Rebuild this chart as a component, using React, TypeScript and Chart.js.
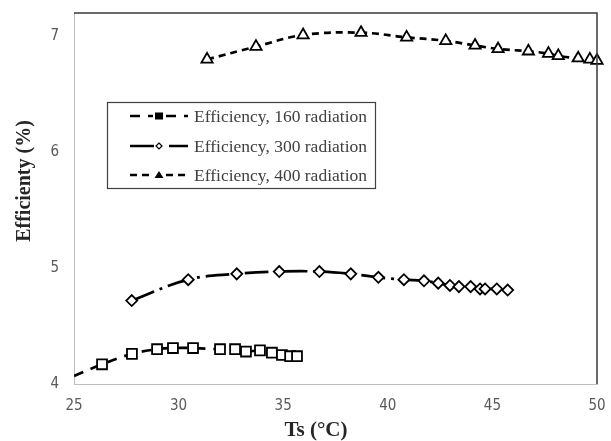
import React, { useEffect, useRef } from 'react';
import { Chart, registerables } from 'chart.js';

Chart.register(...registerables);

// Series data
const ts160 = [25.0, 26.34, 27.77, 28.97, 29.73, 30.69, 31.98, 32.7, 33.22, 33.89, 34.46, 34.94, 35.33, 35.66];
const eff160 = [4.07, 4.17, 4.26, 4.3, 4.31, 4.31, 4.3, 4.3, 4.28, 4.29, 4.27, 4.25, 4.24, 4.24];

const ts300 = [27.76, 30.46, 32.78, 34.81, 36.73, 38.23, 39.55, 40.77, 41.73, 42.41, 42.97, 43.4, 43.96, 44.41, 44.65, 45.21, 45.73];
const eff300 = [4.72, 4.9, 4.95, 4.97, 4.97, 4.95, 4.92, 4.9, 4.89, 4.87, 4.85, 4.84, 4.84, 4.82, 4.82, 4.82, 4.81];

const ts400 = [31.36, 33.7, 35.95, 38.72, 40.9, 42.77, 44.17, 45.27, 46.72, 47.68, 48.15, 49.1, 49.66, 50.0];
const eff400 = [6.8, 6.91, 7.01, 7.03, 6.99, 6.96, 6.92, 6.89, 6.87, 6.85, 6.83, 6.81, 6.8, 6.79];

const seriesLabels = ['Efficiency, 160 radiation', 'Efficiency, 300 radiation', 'Efficiency, 400 radiation'];
const xTicks = [25, 30, 35, 40, 45, 50];
const yTicks = [4, 5, 6, 7];
const xTitle = 'Ts (°C)';
const yTitle = 'Efficienty (%)';

const dash160 = [10, 8];
const dash300 = [24, 6, 3, 6];
const dash400 = [7, 5];

const toPoints = (xs: number[], ys: number[]) => xs.map((x, i) => ({ x, y: ys[i] }));

const overlayPlugin = {
  id: 'overlay',
  afterDraw(chart: any) {
    const { ctx, chartArea } = chart;
    const { left, right, top, bottom } = chartArea;
    ctx.save();
    // top / right frame lines
    ctx.strokeStyle = '#3a3a3a';
    ctx.lineWidth = 1.5;
    ctx.setLineDash([]);
    ctx.beginPath();
    ctx.moveTo(left, top);
    ctx.lineTo(right, top);
    ctx.lineTo(right, bottom);
    ctx.stroke();

    // axis titles
    ctx.fillStyle = '#262626';
    ctx.textAlign = 'center';
    ctx.textBaseline = 'middle';
    ctx.font = 'bold 21px "Liberation Serif", "Times New Roman", serif';
    ctx.fillText(xTitle, 316, 431);
    ctx.font = 'bold 20px "Liberation Serif", "Times New Roman", serif';
    ctx.save();
    ctx.translate(25, 181);
    ctx.rotate(-Math.PI / 2);
    ctx.fillText(yTitle, 0, 0);
    ctx.restore();

    // legend box
    ctx.strokeStyle = '#404040';
    ctx.lineWidth = 1.2;
    ctx.strokeRect(107.5, 102.5, 268, 86);

    const rows = [116, 146, 175];
    const dashes = [dash160, dash300, dash400];
    rows.forEach((y, i) => {
      ctx.strokeStyle = '#000';
      ctx.lineWidth = 2.5;
      ctx.setLineDash(dashes[i]);
      ctx.beginPath();
      ctx.moveTo(130, y);
      ctx.lineTo(188, y);
      ctx.stroke();
      ctx.setLineDash([]);
      // marker
      const mx = 159;
      ctx.lineWidth = 1.2;
      if (i === 0) {
        ctx.fillStyle = '#fff';
        ctx.fillRect(mx - 6, y - 5, 12, 10);
        ctx.fillStyle = '#000';
        ctx.fillRect(mx - 4, y - 3.5, 8, 7);
      } else if (i === 1) {
        ctx.fillStyle = '#fff';
        ctx.fillRect(mx - 5, y - 5, 10, 10);
        ctx.beginPath();
        ctx.moveTo(mx, y - 3);
        ctx.lineTo(mx + 3, y);
        ctx.lineTo(mx, y + 3);
        ctx.lineTo(mx - 3, y);
        ctx.closePath();
        ctx.fill();
        ctx.strokeStyle = '#000';
        ctx.stroke();
      } else {
        ctx.fillStyle = '#fff';
        ctx.fillRect(mx - 6, y - 5, 12, 10);
        ctx.fillStyle = '#000';
        ctx.beginPath();
        ctx.moveTo(mx, y - 4);
        ctx.lineTo(mx + 4.5, y + 3);
        ctx.lineTo(mx - 4.5, y + 3);
        ctx.closePath();
        ctx.fill();
      }
      ctx.fillStyle = '#404040';
      ctx.textAlign = 'left';
      ctx.textBaseline = 'middle';
      ctx.font = '17.5px "Liberation Serif", "Times New Roman", serif';
      ctx.fillText(seriesLabels[i], 194, y + 1);
    });
    ctx.restore();
  },
};

export default function App() {
  const ref = useRef<HTMLCanvasElement | null>(null);
  useEffect(() => {
    if (!ref.current) return;
    const tickFont = { family: "'Liberation Sans Narrow', 'DejaVu Sans Condensed', 'Liberation Sans', sans-serif", size: 15 };
    const common = {
      borderColor: '#000',
      borderWidth: 2.7,
      pointBackgroundColor: '#fff',
      pointBorderColor: '#000',
      pointBorderWidth: 1.8,
      tension: 0.4,
      fill: false,
    };
    const chart = new Chart(ref.current, {
      type: 'line',
      data: {
        datasets: [
          {
            ...common,
            label: seriesLabels[0],
            data: toPoints(ts160, eff160),
            borderDash: dash160,
            pointStyle: 'rect',
            pointRadius: ts160.map((_, i) => (i === 0 ? 0 : 7)),
          },
          {
            ...common,
            label: seriesLabels[1],
            data: toPoints(ts300, eff300),
            borderDash: dash300,
            pointStyle: 'rectRot',
            pointRadius: 5.5,
          },
          {
            ...common,
            label: seriesLabels[2],
            data: toPoints(ts400, eff400),
            borderDash: dash400,
            pointStyle: 'triangle',
            pointRadius: 6.5,
            clip: 10,
          },
        ] as any,
      },
      options: {
        animation: false,
        responsive: false,
        layout: { padding: { left: 0, top: 13, right: 14, bottom: 0 } },
        plugins: { legend: { display: false }, tooltip: { enabled: false } },
        scales: {
          x: {
            type: 'linear',
            min: 25,
            max: 50,
            afterBuildTicks: (s: any) => { s.ticks = xTicks.map((v) => ({ value: v })); },
            afterFit: (s: any) => { s.height = 57; s.paddingLeft = 0; s.paddingRight = 0; },
            grid: { display: false, drawTicks: false },
            border: { display: true, color: '#bfbfbf', width: 1 },
            ticks: { color: '#595959', font: tickFont, padding: 13, maxRotation: 0 },
          },
          y: {
            type: 'linear',
            min: 4,
            max: 7.2,
            afterBuildTicks: (s: any) => { s.ticks = yTicks.map((v) => ({ value: v })); },
            afterFit: (s: any) => { s.width = 74; s.paddingTop = 0; s.paddingBottom = 0; },
            grid: { display: false, drawTicks: false },
            border: { display: true, color: '#bfbfbf', width: 1 },
            ticks: { color: '#595959', font: tickFont, padding: 15 },
          },
        },
      } as any,
      plugins: [overlayPlugin],
    });
    return () => chart.destroy();
  }, []);
  return (
    <div style={{ position: 'absolute', left: 0, top: 0, width: 611, height: 441, background: '#fff' }}>
      <canvas ref={ref} width={611} height={441} />
    </div>
  );
}
